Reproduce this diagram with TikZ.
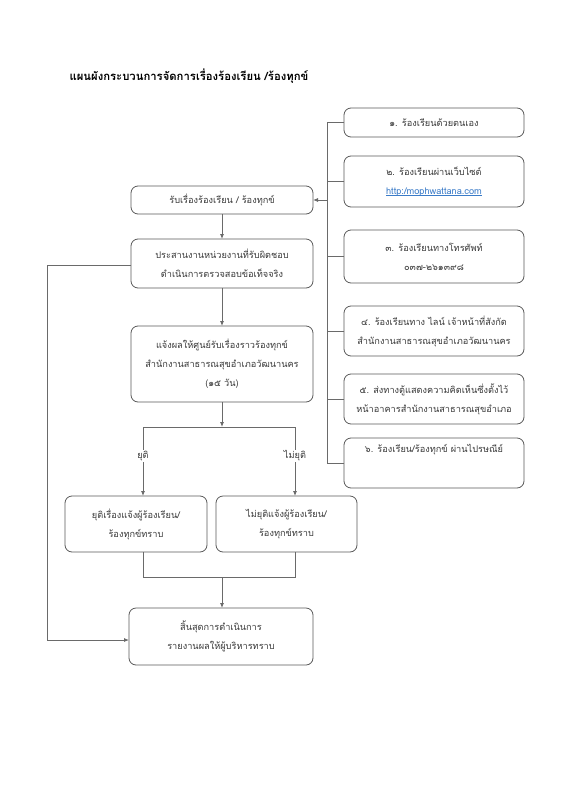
\documentclass[tikz,border=0pt]{standalone}
\usepackage{fontspec}
\newfontfamily\thai[Script=Thai]{Loma}
\usetikzlibrary{arrows.meta}
\definecolor{boxc}{HTML}{5A5A5A}
\definecolor{linec}{HTML}{6A6A6A}
\definecolor{txtc}{HTML}{3A3A3A}
\definecolor{linkc}{HTML}{3A7BC8}
\newlength\ulen
\newcommand\ulink[1]{\settowidth\ulen{#1}\rlap{\rule[-1.6pt]{\ulen}{0.45pt}}#1}
\begin{document}
\begin{tikzpicture}[x=1pt,y=-1pt,
 box/.style={draw=boxc, rounded corners=7pt, line width=0.8pt, align=center,
   font=\thai\fontsize{9.2}{19}\selectfont, text=txtc, inner sep=0pt, outer sep=0pt},
 ln/.style={draw=linec, line width=0.8pt},
 arr/.style={ln, -{Latex[length=5pt,width=4pt]}},
 lbl/.style={font=\thai\fontsize{9.2}{10}\selectfont, text=txtc, fill=white, inner sep=1pt}]
\useasboundingbox (0,0) rectangle (566,800);
\fill[white] (0,0) rectangle (566,800);

\node[anchor=west, font=\thai\bfseries\fontsize{11.3}{13}\selectfont, text=black] (title) at (66,76)
  {แผนผังกระบวนการจัดการเรื่องร้องเรียน /ร้องทุกข์};

% main column
\node[box, minimum width=182pt, minimum height=28pt] (m1) at (222,200) {รับเรื่องร้องเรียน / ร้องทุกข์};
\node[box, minimum width=182pt, minimum height=49pt] (m2) at (222,263.5)
  {ประสานงานหน่วยงานที่รับผิดชอบ\\ดำเนินการตรวจสอบข้อเท็จจริง};
\node[box, minimum width=182pt, minimum height=76pt] (m3) at (222,364)
  {แจ้งผลให้ศูนย์รับเรื่องราวร้องทุกข์\\สำนักงานสาธารณสุขอำเภอวัฒนานคร\\(๑๕ วัน)};
\node[box, minimum width=142pt, minimum height=56pt] (bl) at (136,524)
  {ยุติเรื่องแจ้งผู้ร้องเรียน/\\ร้องทุกข์ทราบ};
\node[box, minimum width=141pt, minimum height=56pt] (br) at (286.5,524)
  {ไม่ยุติแจ้งผู้ร้องเรียน/\\ร้องทุกข์ทราบ};
\node[box, minimum width=184pt, minimum height=57pt] (fin) at (221,636.5)
  {สิ้นสุดการดำเนินการ\\รายงานผลให้ผู้บริหารทราบ};

% right column
\node[box, minimum width=180pt, minimum height=29pt] (r1) at (434,122.5) {๑. ร้องเรียนด้วยตนเอง};
\node[box, minimum width=180pt, minimum height=51pt] (r2) at (434,181.5)
  {๒. ร้องเรียนผ่านเว็บไซต์\\{\color{linkc}\ulink{http:/mophwattana.com}}};
\node[box, minimum width=180pt, minimum height=53pt] (r3) at (434,256.5)
  {๓. ร้องเรียนทางโทรศัพท์\\๐๓๗-๒๖๑๓๙๘};
\node[box, minimum width=180pt, minimum height=50pt] (r4) at (434,331)
  {๔. ร้องเรียนทาง ไลน์ เจ้าหน้าที่สังกัด\\สำนักงานสาธารณสุขอำเภอวัฒนานคร};
\node[box, minimum width=180pt, minimum height=50pt] (r5) at (434,399)
  {๕. ส่งทางตู้แสดงความคิดเห็นซึ่งตั้งไว้\\หน้าอาคารสำนักงานสาธารณสุขอำเภอ};
\node[box, minimum width=180pt, minimum height=50pt, text height=8pt, text depth=30pt] (r6) at (434,463)
  {๖. ร้องเรียน/ร้องทุกข์ ผ่านไปรษณีย์};

% bus
\coordinate (bt) at (327,122.5);
\coordinate (bb) at (327,463);
\draw[ln] (bt) -- (bb);
\foreach \r in {r1,r2,r3,r4,r5,r6} \draw[ln] (\r.west) -- (\r.west -| bt);
\draw[arr] (m1.east -| bt) -- (m1.east);

% main flow
\draw[arr] (m1) -- (m2);
\draw[arr] (m2) -- (m3);
\coordinate (sp) at (222,427);
\coordinate (spl) at (143,427);
\coordinate (spr) at (295,427);
\draw[arr] (m3.south) -- (sp);
\draw[ln] (spl) -- (spr);
\draw[arr] (spl) -- (spl |- bl.north) node[lbl, pos=0.42] {ยุติ};
\draw[arr] (spr) -- (spr |- br.north) node[lbl, pos=0.42] {ไม่ยุติ};

\coordinate (jl) at (143,577);
\coordinate (jr) at (295,577);
\coordinate (jm) at (222,577);
\draw[ln] (jl |- bl.south) -- (jl) -- (jr) -- (jr |- br.south);
\draw[arr] (jm) -- (fin.north -| jm);

% loop
\coordinate (lp1) at (47,265);
\coordinate (lp2) at (47,640);
\draw[arr] (m2.west |- lp1) -- (lp1) -- (lp2) -- (lp2 -| fin.west);
\end{tikzpicture}
\end{document}
